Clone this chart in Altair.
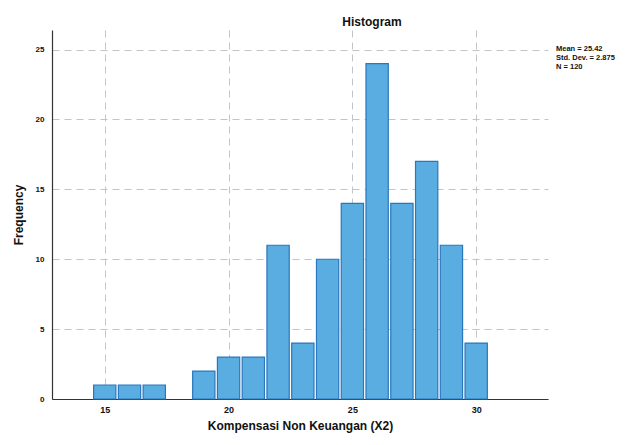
import altair as alt
import pandas as pd

values = [15, 16, 17, 19, 20, 21, 22, 23, 24, 25, 26, 27, 28, 29, 30]
counts = [1, 1, 1, 2, 3, 3, 11, 4, 10, 14, 24, 14, 17, 11, 4]
x_ticks = [15, 20, 25, 30]
y_ticks = [0, 5, 10, 15, 20, 25]
stats_lines = ["Mean = 25.42", "Std. Dev. = 2.875", "N = 120"]

half = 0.45
df = pd.DataFrame({
    "value": values,
    "count": counts,
    "start": [v - half for v in values],
    "end": [v + half for v in values],
})

FONT = "Liberation Sans"

xscale = alt.Scale(domain=[12.87, 32.9], nice=False, zero=False)
yscale = alt.Scale(domain=[0, 26.4], nice=False)

bars = alt.Chart(df).mark_bar(
    color="#5aade0", stroke="#2b76bd", strokeWidth=1.2, opacity=1
).encode(
    x=alt.X("start:Q", scale=xscale,
            axis=alt.Axis(values=x_ticks, title="Kompensasi Non Keuangan (X2)",
                          grid=True, gridDash=[7, 5], gridColor="#c4c4c4",
                          domainColor="#333", ticks=False, labelFont=FONT,
                          labelFontWeight="bold", labelFontSize=9,
                          labelPadding=6, titleFont=FONT, titleFontSize=12,
                          titleFontWeight="bold", titlePadding=6,
                          titleColor="#111", labelColor="#111")),
    x2="end:Q",
    y=alt.Y("count:Q", scale=yscale,
            axis=alt.Axis(values=y_ticks, title="Frequency", grid=True,
                          gridDash=[7, 5], gridColor="#c4c4c4",
                          domainColor="#333", ticks=False, labelFont=FONT,
                          labelFontWeight="bold", labelFontSize=8,
                          labelPadding=8, titleFont=FONT, titleFontSize=12,
                          titleFontWeight="bold", titlePadding=10,
                          titleColor="#111", labelColor="#111")),
    y2=alt.datum(0),
)

stats_df = pd.DataFrame({"txt": ["\n".join(stats_lines)]})
stats = alt.Chart(stats_df).mark_text(
    align="left", baseline="top", font=FONT, fontSize=7.5,
    fontWeight="bold", color="#111", lineBreak="\n", lineHeight=9
).encode(
    x=alt.value(504),
    y=alt.value(15),
    text="txt:N",
)

chart = alt.layer(bars, stats).properties(
    width=496,
    height=369,
    autosize=alt.AutoSizeParams(type="none"),
    padding={"left": 44, "top": 22, "right": 70, "bottom": 38},
    title=alt.TitleParams("Histogram", anchor="middle", dx=72, offset=1,
                          font=FONT, fontSize=12, fontWeight="bold",
                          color="#111"),
).configure_view(stroke=None).configure_axis(domainWidth=1.2)

chart.save("out.html", embed_options={"renderer": "svg", "actions": False})
